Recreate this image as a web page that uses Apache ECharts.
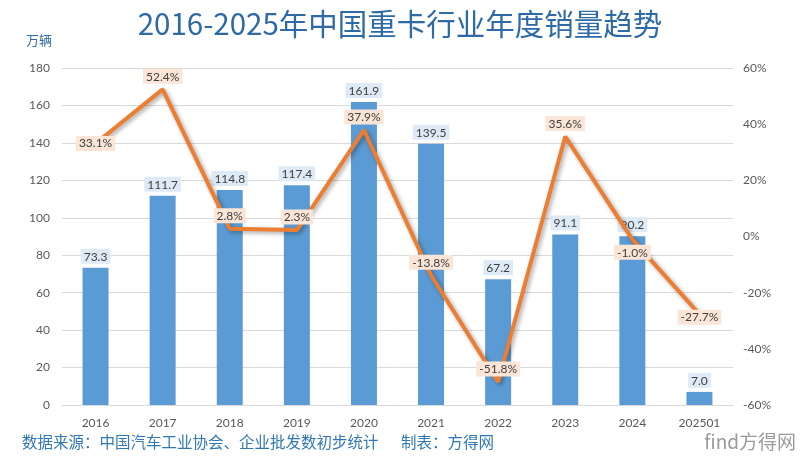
<!DOCTYPE html>
<html><head><meta charset="utf-8">
<script src="https://cdn.jsdelivr.net/npm/echarts@6/dist/echarts.min.js"></script>
<style>html,body{margin:0;padding:0;background:#fff}#c{width:800px;height:461px}</style>
</head><body><div id="c"></div>
<script>
const categories = ['2016','2017','2018','2019','2020','2021','2022','2023','2024','202501'];
const sales = [73.3,111.7,114.8,117.4,161.9,139.5,67.2,91.1,90.2,7.0];
const growth = [33.1,52.4,2.8,2.3,37.9,-13.8,-51.8,35.6,-1.0,-27.7];
const growthLabelPos = ['inside','top','top','top','top','top','top','top','bottom','inside'];
const leftTicks = {min:0,max:180,interval:20};
const rightTicks = {min:-60,max:60,interval:20};

const FONT = 'Lato, "Noto Sans CJK SC", sans-serif';
const chart = echarts.init(document.getElementById('c'));
chart.setOption({
  backgroundColor:'#fff',
  animation:false,
  title:{text:'2016-2025年中国重卡行业年度销量趋势',left:'center',top:4,
    textStyle:{fontFamily:'"Noto Sans CJK SC", sans-serif',fontSize:29.5,fontWeight:'normal',color:'#2e6aa6'}},
  graphic:[
    {type:'text',left:26,top:34,style:{text:'万辆',fontFamily:'"Noto Sans CJK SC"',fontSize:13,fill:'#2e6aa6'}},
    {type:'text',left:22,top:434,style:{text:'数据来源：中国汽车工业协会、企业批发数初步统计　  制表：方得网',fontFamily:'"Noto Sans CJK SC"',fontSize:15.5,fill:'#2f78b4'}},
    {type:'text',right:4,top:432,style:{text:'find方得网',fontFamily:'"Noto Sans CJK SC"',fontSize:19,fill:'#9a9a9a'}}
  ],
  grid:{left:62,right:67,top:68,bottom:56},
  xAxis:{type:'category',data:categories,
    axisLine:{lineStyle:{color:'#d9d9d9'}},axisTick:{show:false},
    axisLabel:{color:'#595959',fontSize:12,fontFamily:FONT,margin:12}},
  yAxis:[
    {type:'value',min:leftTicks.min,max:leftTicks.max,interval:leftTicks.interval,
      axisLine:{show:false},axisTick:{show:false},
      splitLine:{lineStyle:{color:'#d9d9d9'}},
      axisLabel:{color:'#595959',fontSize:12,fontFamily:FONT,margin:12}},
    {type:'value',min:rightTicks.min,max:rightTicks.max,interval:rightTicks.interval,
      axisLine:{show:false},axisTick:{show:false},splitLine:{show:false},
      axisLabel:{color:'#595959',fontSize:12,fontFamily:FONT,margin:10,formatter:'{value}%'}}
  ],
  series:[
    {type:'bar',data:sales,barWidth:26,itemStyle:{color:'#5b9bd5'},
      label:{show:true,position:'top',distance:4,color:'#404040',fontSize:12,fontFamily:FONT,
        backgroundColor:'#deebf7',padding:[2,3,1,3],formatter:p=>p.value.toFixed(1)}},
    {type:'line',yAxisIndex:1,z:5,
      data:growth.map((v,i)=>({value:v,label:{position:growthLabelPos[i],offset:i===9?[0,3]:[0,0]}})),
      symbol:'circle',symbolSize:1,itemStyle:{color:'#ed7d31'},
      lineStyle:{color:'#ed7d31',width:4,shadowColor:'rgba(0,0,0,0.35)',shadowBlur:4,shadowOffsetX:2,shadowOffsetY:2},
      label:{show:true,color:'#404040',fontSize:12,fontFamily:FONT,distance:5,
        backgroundColor:'#fbe5d6',padding:[2,3,1,3],formatter:p=>p.value.toFixed(1)+'%'}}
  ]
});
</script></body></html>
